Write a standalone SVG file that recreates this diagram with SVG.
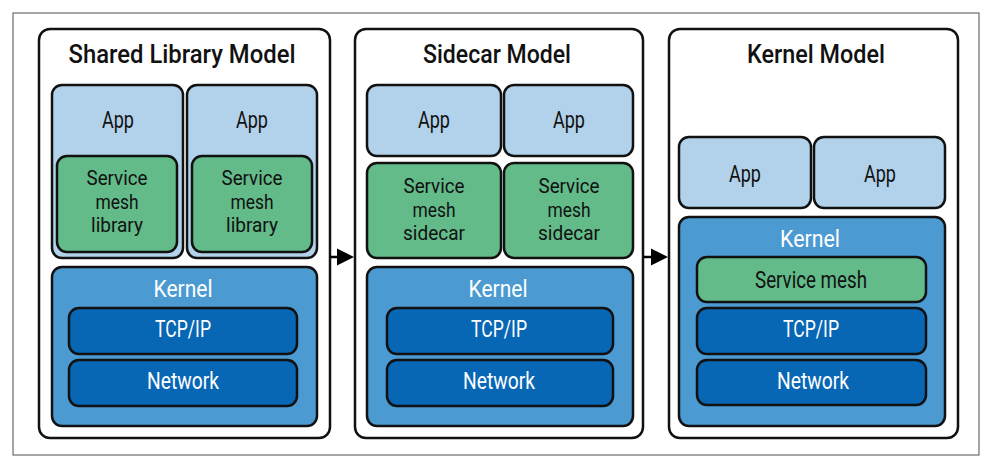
<svg xmlns="http://www.w3.org/2000/svg" width="996" height="470" viewBox="0 0 996 470">
<defs>
<style>
.frame{fill:#fff;stroke:#6b6b6b;stroke-width:1.2}
.panel{fill:#fff;stroke:#111;stroke-width:2.5}
.app{fill:#b1d2ea;stroke:#111;stroke-width:2.5}
.mesh{fill:#62bb89;stroke:#111;stroke-width:2.5}
.kern{fill:#4b9ad2;stroke:#111;stroke-width:2.5}
.layer{fill:#0867b5;stroke:#111;stroke-width:2.5}
text{font-family:Roboto,"Noto Sans",sans-serif;text-anchor:middle}
.title{font-size:25.5px;fill:#111;font-weight:500}
.dk{font-size:23px;fill:#111}
.ml{font-size:20.5px;fill:#111}
.wt{font-size:23px;fill:#fff}
.conn{stroke:#000;stroke-width:2.5;fill:none}
</style>
</defs>
<rect class="frame" x="13" y="13" width="966" height="442"/>

<g id="panel-shared">
<rect class="panel" x="39" y="29" width="291" height="409" rx="11"/>
<text class="title" x="182" y="63" textLength="227" lengthAdjust="spacingAndGlyphs">Shared Library Model</text>
</g>
<g id="app1a">
<rect class="app" x="52" y="85" width="131" height="173" rx="10"/>
<text class="dk" x="118" y="128" textLength="32" lengthAdjust="spacingAndGlyphs">App</text>
</g>
<g id="lib1a">
<rect class="mesh" x="57" y="156" width="120" height="96" rx="10"/>
<text class="ml" x="117" y="185" textLength="61" lengthAdjust="spacingAndGlyphs">Service</text>
<text class="ml" x="117" y="209" textLength="43" lengthAdjust="spacingAndGlyphs">mesh</text>
<text class="ml" x="117" y="232" textLength="52" lengthAdjust="spacingAndGlyphs">library</text>
</g>
<g id="app1b">
<rect class="app" x="187" y="85" width="130" height="173" rx="10"/>
<text class="dk" x="252" y="128" textLength="32" lengthAdjust="spacingAndGlyphs">App</text>
</g>
<g id="lib1b">
<rect class="mesh" x="192" y="156" width="120" height="96" rx="10"/>
<text class="ml" x="252" y="185" textLength="61" lengthAdjust="spacingAndGlyphs">Service</text>
<text class="ml" x="252" y="209" textLength="43" lengthAdjust="spacingAndGlyphs">mesh</text>
<text class="ml" x="252" y="232" textLength="52" lengthAdjust="spacingAndGlyphs">library</text>
</g>
<g id="kernel1">
<rect class="kern" x="52" y="267" width="265" height="159" rx="10"/>
<text class="wt" x="183" y="296.5" textLength="59" lengthAdjust="spacingAndGlyphs">Kernel</text>
</g>
<g id="tcp1">
<rect class="layer" x="69" y="308" width="228" height="46" rx="10"/>
<text class="wt" x="183" y="337" textLength="56" lengthAdjust="spacingAndGlyphs">TCP/IP</text>
</g>
<g id="net1">
<rect class="layer" x="69" y="360" width="228" height="46" rx="10"/>
<text class="wt" x="183" y="389" textLength="72" lengthAdjust="spacingAndGlyphs">Network</text>
</g>

<g id="panel-sidecar">
<rect class="panel" x="355" y="29" width="288" height="409" rx="11"/>
<text class="title" x="497" y="63" textLength="148" lengthAdjust="spacingAndGlyphs">Sidecar Model</text>
</g>
<g id="app2a">
<rect class="app" x="367" y="85" width="134" height="71" rx="10"/>
<text class="dk" x="434" y="128" textLength="32" lengthAdjust="spacingAndGlyphs">App</text>
</g>
<g id="app2b">
<rect class="app" x="504" y="85" width="129" height="71" rx="10"/>
<text class="dk" x="569" y="128" textLength="32" lengthAdjust="spacingAndGlyphs">App</text>
</g>
<g id="side2a">
<rect class="mesh" x="367" y="163" width="134" height="95" rx="10"/>
<text class="ml" x="434" y="193" textLength="61" lengthAdjust="spacingAndGlyphs">Service</text>
<text class="ml" x="434" y="216.5" textLength="43" lengthAdjust="spacingAndGlyphs">mesh</text>
<text class="ml" x="434" y="240" textLength="62" lengthAdjust="spacingAndGlyphs">sidecar</text>
</g>
<g id="side2b">
<rect class="mesh" x="504" y="163" width="129" height="95" rx="10"/>
<text class="ml" x="569" y="193" textLength="61" lengthAdjust="spacingAndGlyphs">Service</text>
<text class="ml" x="569" y="216.5" textLength="43" lengthAdjust="spacingAndGlyphs">mesh</text>
<text class="ml" x="569" y="240" textLength="62" lengthAdjust="spacingAndGlyphs">sidecar</text>
</g>
<g id="kernel2">
<rect class="kern" x="367" y="267" width="266" height="159" rx="10"/>
<text class="wt" x="498" y="296.5" textLength="59" lengthAdjust="spacingAndGlyphs">Kernel</text>
</g>
<g id="tcp2">
<rect class="layer" x="387" y="308" width="226" height="46" rx="10"/>
<text class="wt" x="499" y="337" textLength="56" lengthAdjust="spacingAndGlyphs">TCP/IP</text>
</g>
<g id="net2">
<rect class="layer" x="387" y="360" width="226" height="46" rx="10"/>
<text class="wt" x="499" y="389" textLength="72" lengthAdjust="spacingAndGlyphs">Network</text>
</g>

<g id="panel-kernel">
<rect class="panel" x="669" y="29" width="289" height="409" rx="11"/>
<text class="title" x="816" y="63" textLength="138" lengthAdjust="spacingAndGlyphs">Kernel Model</text>
</g>
<g id="app3a">
<rect class="app" x="679" y="137" width="132" height="71" rx="10"/>
<text class="dk" x="745" y="181.5" textLength="32" lengthAdjust="spacingAndGlyphs">App</text>
</g>
<g id="app3b">
<rect class="app" x="814" y="137" width="131" height="71" rx="10"/>
<text class="dk" x="880" y="181.5" textLength="32" lengthAdjust="spacingAndGlyphs">App</text>
</g>
<g id="kernel3">
<rect class="kern" x="679" y="217" width="266" height="209" rx="10"/>
<text class="wt" x="810" y="246.5" textLength="60" lengthAdjust="spacingAndGlyphs">Kernel</text>
</g>
<g id="mesh3">
<rect class="mesh" x="697" y="257" width="229" height="45" rx="10"/>
<text class="dk" x="811" y="288" textLength="112" lengthAdjust="spacingAndGlyphs">Service mesh</text>
</g>
<g id="tcp3">
<rect class="layer" x="697" y="308" width="229" height="46" rx="10"/>
<text class="wt" x="811" y="337" textLength="56" lengthAdjust="spacingAndGlyphs">TCP/IP</text>
</g>
<g id="net3">
<rect class="layer" x="697" y="360" width="229" height="45" rx="10"/>
<text class="wt" x="813" y="389" textLength="72" lengthAdjust="spacingAndGlyphs">Network</text>
</g>

<g id="connectors">
<line class="conn" x1="330" y1="257" x2="338" y2="257"/>
<path d="M337,248.5 L354,257 L337,265.5 z" fill="#000"/>
<line class="conn" x1="643" y1="257" x2="652" y2="257"/>
<path d="M651,248.5 L668,257 L651,265.5 z" fill="#000"/>
</g>
</svg>
